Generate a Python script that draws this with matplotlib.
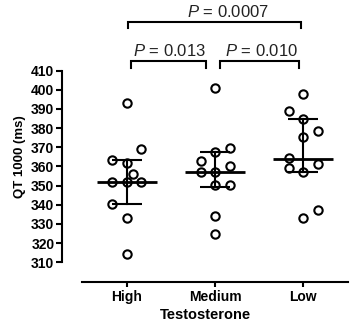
import numpy as np
import matplotlib
matplotlib.use("Agg")
import matplotlib.pyplot as plt

plt.rcParams['font.family'] = ['Liberation Sans', 'DejaVu Sans']
plt.rcParams['mathtext.fontset'] = 'custom'
plt.rcParams['mathtext.rm'] = 'Liberation Sans'
plt.rcParams['mathtext.it'] = 'Liberation Sans:italic'

# Data (QT 1000, ms)
groups = ['High', 'Medium', 'Low']
high = [393, 369, 363.4, 361.7, 356, 352, 352, 352, 340.3, 333.3, 314.3]
medium = [401, 369.5, 367.7, 363, 360.3, 357.3, 357.3, 350.3, 350.3, 334.3, 325]
low = [398, 389, 384.6, 378.7, 375.6, 364.3, 361.3, 359.4, 357.3, 337.3, 333.3]
# horizontal scatter slots (-1, 0, +1) to keep circles from overlapping
high_slot = [0, 1, -1, 0, 0.45, -1, 0, 1, -1, 0, 0]
medium_slot = [0, 1, 0, -1, 1, -1, 0, 0, 1, 0, 0]
low_slot = [0, -1, 0, 1, 0, -1, 1, -1, 0, 1, 0]
# median and interquartile range
medians = [352, 357.3, 363.8]
q1 = [340.3, 349.1, 357.3]
q3 = [363.4, 367.7, 384.6]
# pairwise comparisons
pairs = [(0, 1, '0.013'), (1, 2, '0.010'), (0, 2, '0.0007')]

values = [high, medium, low]
slots = [high_slot, medium_slot, low_slot]

fig = plt.figure(figsize=(3.57, 3.31), dpi=100)
ax = fig.add_axes([62 / 357, 1 - 282 / 331, (348 - 62) / 357, (282 - 13.2) / 331])

lw = 1.5
step = 0.164
for i, (vals, sl) in enumerate(zip(values, slots)):
    xs = i + np.array(sl) * step
    ax.plot(xs, vals, 'o', ms=6, mfc='white', mec='black', mew=1.5,
            clip_on=False, zorder=2)
    # median bar
    ax.plot([i - 0.34, i + 0.34], [medians[i]] * 2, color='black', lw=2,
            solid_capstyle='butt', zorder=3)
    # IQR whisker
    ax.plot([i, i], [q1[i], q3[i]], color='black', lw=lw, zorder=3)
    for q in (q1[i], q3[i]):
        ax.plot([i - 0.17, i + 0.17], [q, q], color='black', lw=lw,
                solid_capstyle='butt', zorder=3)

# significance brackets
bracket_y = {(0, 1): (411.4, 415), (1, 2): (411.4, 415), (0, 2): (432.1, 435.6)}
bracket_x = {(0, 1): (0.045, 0.9), (1, 2): (1.06, 1.95), (0, 2): (0.01, 1.97)}
text_x = {(0, 1): 0.479, (1, 2): 1.524, (0, 2): 1.147}
for a, b, p in pairs:
    x0, x1 = bracket_x[(a, b)]
    y0, y1 = bracket_y[(a, b)]
    ax.plot([x0, x0, x1, x1], [y0, y1, y1, y0], color='black', lw=lw,
            clip_on=False, solid_joinstyle='miter')
    ax.text(text_x[(a, b)], y1 + 1.0, '$P$ = ' + p, ha='center', va='bottom',
            fontsize=12, color='#222222')

ax.set_xlim(-0.733, 2.506)
ax.set_ylim(299.7, 440)
ax.set_yticks(np.arange(310, 411, 10))
ax.set_xticks(range(len(groups)))
ax.set_xticklabels(groups, fontsize=10, fontweight='bold')
for lab in ax.get_yticklabels():
    lab.set_fontweight('bold')
    lab.set_fontsize(10)

for s in ['top', 'right']:
    ax.spines[s].set_visible(False)
ax.spines['left'].set_bounds(310, 410)
ax.spines['bottom'].set_bounds(-0.506, 2.506)
ax.spines['left'].set_linewidth(1.5)
ax.spines['bottom'].set_linewidth(1.5)
ax.tick_params(axis='y', length=4.5, width=1.5, pad=1)
ax.tick_params(axis='x', length=3.5, width=1.5, pad=2)

ax.set_ylabel('QT 1000 (ms)', fontsize=9.5, fontweight='bold')
ax.yaxis.set_label_coords(-0.125, (365 - 299.7) / (440 - 299.7))
ax.set_xlabel('Testosterone', fontsize=10.5, fontweight='bold', labelpad=3)

fig.savefig('out.png', dpi=100)
